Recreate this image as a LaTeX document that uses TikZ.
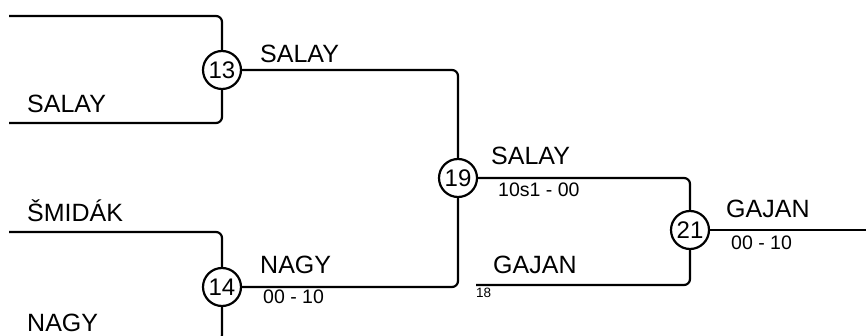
\documentclass[tikz,border=0pt]{standalone}
\usepackage{fontspec}
\setmainfont{Liberation Sans}
\begin{document}
\begin{tikzpicture}[x=1pt,y=-1pt,
  wire/.style={line width=2.2pt, rounded corners=6pt},
  game/.style={circle, draw, line width=2.2pt, fill=white, minimum size=38pt, inner sep=0pt, font=\fontsize{24}{26}\selectfont},
  plabel/.style={anchor=base west, inner sep=0pt, font=\fontsize{25}{27}\selectfont},
  pscore/.style={anchor=base west, inner sep=0pt, font=\fontsize{19.5}{21}\selectfont},
  pseed/.style={anchor=base west, inner sep=0pt, font=\fontsize{13.5}{15}\selectfont}]
\useasboundingbox (0,0) rectangle (866,336);
\clip (0,0) rectangle (866,336);
% coordinates
\coordinate (a0) at (9,16);
\coordinate (b0) at (9,123);
\coordinate (c0) at (9,232);
\coordinate (d0) at (9,341);
\coordinate (g0) at (476,285);
\coordinate (e0) at (866,230);
% game nodes
\node[game] (c13) at (222,70) {13};
\node[game] (c14) at (222,287) {14};
\node[game] (c19) at (458,178) {19};
\node[game] (c21) at (690,230) {21};
% wires
\draw[wire] (a0) -| (c13.north);
\draw[wire] (b0) -| (c13.south);
\draw[wire] (c0) -| (c14.north);
\draw[wire] (c14.south) |- (d0);
\draw[wire] (c13.east) -| (c19.north);
\draw[wire] (c14.east) -| (c19.south);
\draw[wire] (c19.east) -| (c21.north);
\draw[wire] (g0) -| (c21.south);
\draw[wire] (c21.east) -- (e0);
% labels
\node[plabel] (t1) at (27,113) {SALAY};
\node[plabel] (t2) at (27,222) {ŠMIDÁK};
\node[plabel] (t3) at (27,331) {NAGY};
\node[plabel] (t4) at (260,63) {SALAY};
\node[plabel] (t5) at (260,273) {NAGY};
\node[pscore] (s5) at (263,303) {00 - 10};
\node[plabel] (t6) at (491,165) {SALAY};
\node[pscore] (s6) at (498,197) {10s1 - 00};
\node[plabel] (t7) at (493,273) {GAJAN};
\node[pseed] (s7) at (476,297) {18};
\node[plabel] (t8) at (726,218) {GAJAN};
\node[pscore] (s8) at (731,250) {00 - 10};
\end{tikzpicture}
\end{document}
